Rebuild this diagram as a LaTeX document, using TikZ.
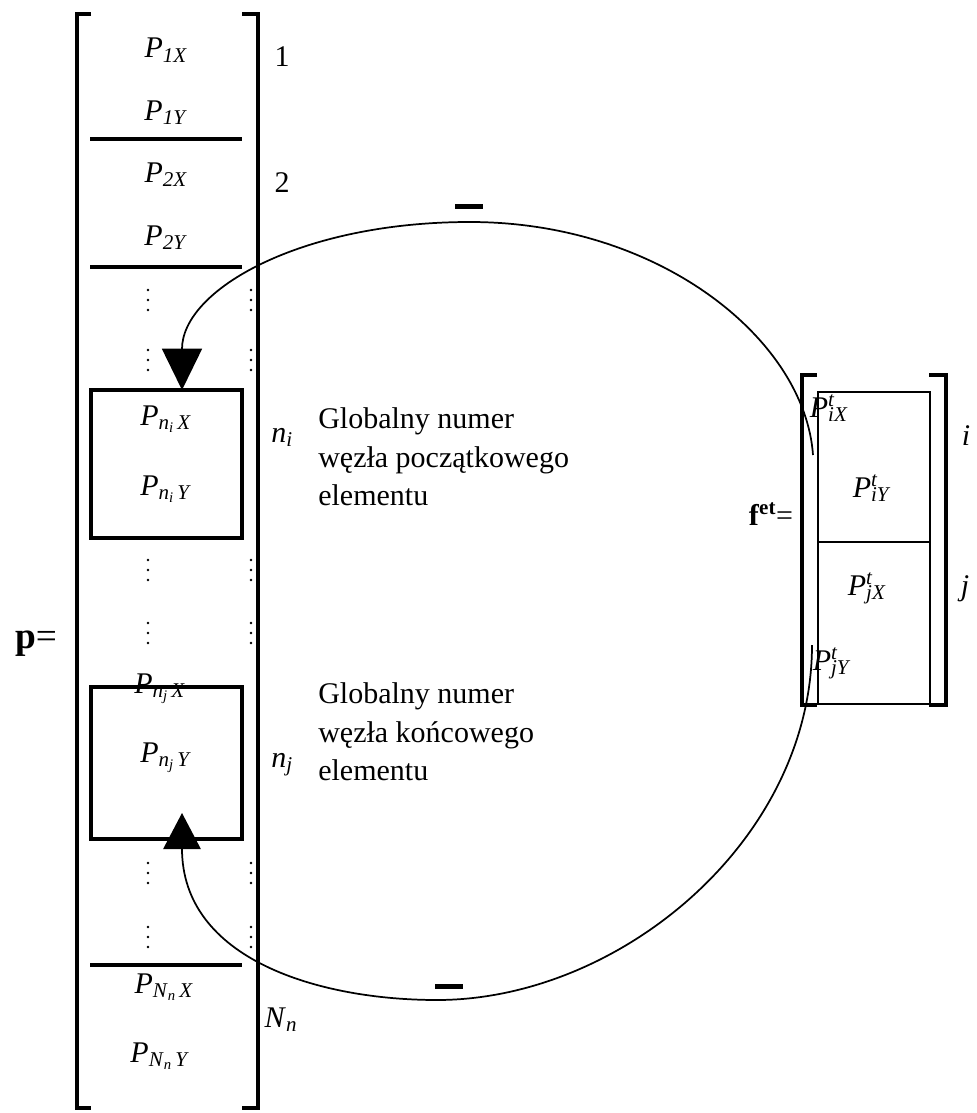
\documentclass[tikz,border=0pt]{standalone}
\usepackage{fontspec}
\setmainfont{Liberation Serif}
\usetikzlibrary{arrows.meta}
\newcommand{\Pl}[1]{\textit{P}\textsubscript{\textit{#1}}}
\newcommand{\Pn}[3]{\textit{P}\textsubscript{\textit{#1}\textsubscript{\textit{#2}}\,\textit{#3}}}
\newcommand{\Pt}[1]{\textit{P}\rlap{\textsuperscript{\textit{t}}}\textsubscript{\textit{#1}}}
\begin{document}
\begin{tikzpicture}[x=0.75pt,y=-0.75pt,
    every node/.style={inner sep=0pt,font=\fontsize{22.5}{29}\selectfont},
    bracket/.style={line width=3pt,line join=miter},
    sep/.style={line width=2.4pt},
    selbox/.style={line width=3pt},
    fbox/.style={line width=2pt},
    link/.style={line width=1.3pt},
    bar/.style={fill,minimum width=21pt,minimum height=3.75pt},
    txt/.style={anchor=west,align=left}]
  \useasboundingbox (0,0) rectangle (976,1113);

  % vector p
  \draw[bracket] (91,14) -- (77,14) -- (77,1108) -- (91,1108);
  \draw[bracket] (242,14) -- (258,14) -- (258,1108) -- (242,1108);
  \draw[sep] (90,139) -- (242,139);
  \draw[sep] (90,267) -- (242,267);
  \draw[sep] (90,965) -- (242,965);
  \draw[selbox] (91,390) rectangle (242,538);
  \draw[selbox] (91,687) rectangle (242,839);
  \foreach \y in {300,360,570,633,873,937}
    \foreach \x in {148,251}
      \foreach \d in {-1,0,1}
        \fill (\x,\y+10*\d) circle (1pt);

  \node[anchor=base] (p1x) at (166,58) {\Pl{1X}};
  \node[anchor=base] (p1y) at (166,120) {\Pl{1Y}};
  \node[anchor=base] (p2x) at (166,182) {\Pl{2X}};
  \node[anchor=base] (p2y) at (166,245) {\Pl{2Y}};
  \node[anchor=base] (pnix) at (166,425) {\Pn{n}{i}{X}};
  \node[anchor=base] (pniy) at (166,495) {\Pn{n}{i}{Y}};
  \node[anchor=base] (pnjx) at (160,693) {\Pn{n}{j}{X}};
  \node[anchor=base] (pnjy) at (166,762) {\Pn{n}{j}{Y}};
  \node[anchor=base] (pnnx) at (164,993) {\Pn{N}{n}{X}};
  \node[anchor=base] (pnny) at (160,1062) {\Pn{N}{n}{Y}};

  \node[anchor=base] (r1) at (282,67) {1};
  \node[anchor=base] (r2) at (282,192) {2};
  \node[anchor=base] (rni) at (282,442) {\textit{n}\textsubscript{\textit{i}}};
  \node[anchor=base] (rnj) at (282,767) {\textit{n}\textsubscript{\textit{j}}};
  \node[anchor=base] (rnn) at (281,1027) {\textit{N}\textsubscript{\textit{n}}};

  \node[txt] (gi) at (318,457) {Globalny numer\\węzła początkowego\\elementu};
  \node[txt] (gj) at (318,732) {Globalny numer\\węzła końcowego\\elementu};

  \node[anchor=base,font=\fontsize{28}{34}\selectfont] (pvec) at (36,648) {\textbf{p}=};

  % vector f
  \draw[bracket] (817,375) -- (802,375) -- (802,705) -- (817,705);
  \draw[bracket] (929,375) -- (946,375) -- (946,705) -- (929,705);
  \draw[fbox] (818,392) rectangle (930,704);
  \draw[fbox] (818,542) -- (930,542);
  \node[anchor=base] (fix) at (829,417) {\Pt{iX}};
  \node[anchor=base] (fiy) at (872,497) {\Pt{iY}};
  \node[anchor=base] (fjx) at (867,595) {\Pt{jX}};
  \node[anchor=base] (fjy) at (832,670) {\Pt{jY}};
  \node[anchor=base] (rowi) at (966,445) {\textit{i}};
  \node[anchor=base] (rowj) at (965,595) {\textit{j}};
  \node[anchor=base] (fvec) at (771,525) {\textbf{f}\textsuperscript{\textbf{et}}=};

  % links
  \coordinate (fi) at (813,455);
  \coordinate (fj) at (812,645);
  \coordinate (tipi) at (182,390);
  \coordinate (tipj) at (182,813);
  \draw[link,-{Triangle[length=31pt,width=30pt]}] (fi) .. controls (805,340) and (660,222) .. (470,222)
    .. controls (300,222) and (182,290) .. (tipi);
  \draw[link,-{Triangle[length=27pt,width=28pt]}] (fj) .. controls (812,840) and (620,1000) .. (437,1000)
    .. controls (320,1000) and (182,960) .. (tipj);
  \node[bar] (mi) at (469,206) {};
  \node[bar] (mj) at (449,986) {};
\end{tikzpicture}
\end{document}
